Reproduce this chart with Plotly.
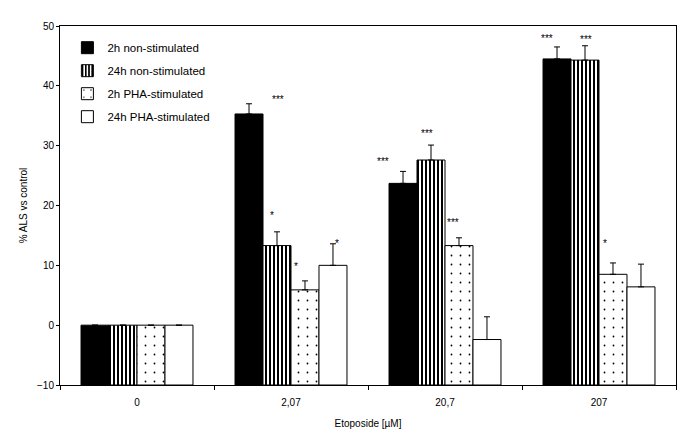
import plotly.graph_objects as go

# --- data ---
doses = ["0", "2,07", "20,7", "207"]
series_names = ["2h non-stimulated", "24h non-stimulated",
                "2h PHA-stimulated", "24h PHA-stimulated"]

nonstim_2h = [0, 35.3, 23.7, 44.5]
nonstim_24h = [0, 13.3, 27.6, 44.3]
pha_2h = [0, 5.9, 13.3, 8.5]
pha_24h = [0, 10.0, -2.4, 6.4]

err_nonstim_2h = [0, 1.7, 2.0, 2.0]
err_nonstim_24h = [0, 2.3, 2.5, 2.4]
err_pha_2h = [0, 1.5, 1.3, 1.9]
err_pha_24h = [0, 3.6, 3.8, 3.8]

# significance marks: dose index, text, y value
star_dose = [1, 1, 1, 1, 2, 2, 2, 3, 3, 3]
star_text = ["***", "*", "*", "*", "***", "***", "***", "***", "***", "*"]
star_y = [37.8, 18.4, 9.8, 13.6, 27.3, 32.0, 17.2, 47.9, 47.7, 13.6]
star_shift = [-13, -19, 5, 46, -62, -18, 8, -52, -13, 6]

AXIS_MIN = -10
FONT = "Liberation Sans, Arial, sans-serif"

values = [nonstim_2h, nonstim_24h, pha_2h, pha_24h]
errors = [err_nonstim_2h, err_nonstim_24h, err_pha_2h, err_pha_24h]
styles = [
    dict(color="black", pattern=dict(shape="")),
    dict(color="white", pattern=dict(shape="|", fgcolor="black", bgcolor="white",
                                     size=4, solidity=0.5, fillmode="replace")),
    dict(color="white", pattern=dict(shape=".", fgcolor="black", bgcolor="white",
                                     size=9, solidity=0.03, fillmode="replace")),
    dict(color="white", pattern=dict(shape="")),
]

fig = go.Figure()
for name, vals, errs, st in zip(series_names, values, errors, styles):
    fig.add_trace(go.Bar(
        x=list(doses), y=[v - AXIS_MIN for v in vals], base=AXIS_MIN, name=name,
        marker=dict(color=st["color"], pattern=st["pattern"],
                    line=dict(color="black", width=1)),
        error_y=dict(type="data", symmetric=False, array=errs,
                     arrayminus=[0] * len(errs), color="black",
                     thickness=1, width=3),
        legendgroup=name,
    ))

for d, t, y, s in zip(star_dose, star_text, star_y, star_shift):
    fig.add_annotation(x=d, y=y, text=t, xshift=s, showarrow=False,
                       font=dict(size=10, color="black", family=FONT))

# page body adds an 8px offset, so margins are shifted to compensate
fig.update_layout(
    width=690, height=433,
    margin=dict(l=52, r=22, t=18, b=56),
    paper_bgcolor="white", plot_bgcolor="white",
    barmode="group", bargap=0.273, bargroupgap=0,
    font=dict(family=FONT, size=10, color="black"),
    legend=dict(x=0.012, y=0.98, xanchor="left", yanchor="top",
                bgcolor="rgba(0,0,0,0)", font=dict(size=11.5),
                itemwidth=30, tracegroupgap=4, traceorder="grouped"),
    xaxis=dict(type="category", categoryorder="array", categoryarray=doses,
               range=[-0.5, 3.5], showline=True, linecolor="black", linewidth=1,
               mirror=True, ticks="outside", tickson="boundaries", ticklen=4,
               tickcolor="black", showgrid=False, ticklabelstandoff=8,
               title=dict(text="Etoposide [µM]", standoff=12,
                          font=dict(size=10))),
    yaxis=dict(range=[-10, 50], dtick=10, showline=True, linecolor="black",
               linewidth=1, mirror=True, ticks="outside", ticklen=3,
               tickcolor="black", showgrid=False, zeroline=False,
               title=dict(text="% ALS vs control", standoff=7,
                          font=dict(size=10))),
)

fig.write_html("out.html")
